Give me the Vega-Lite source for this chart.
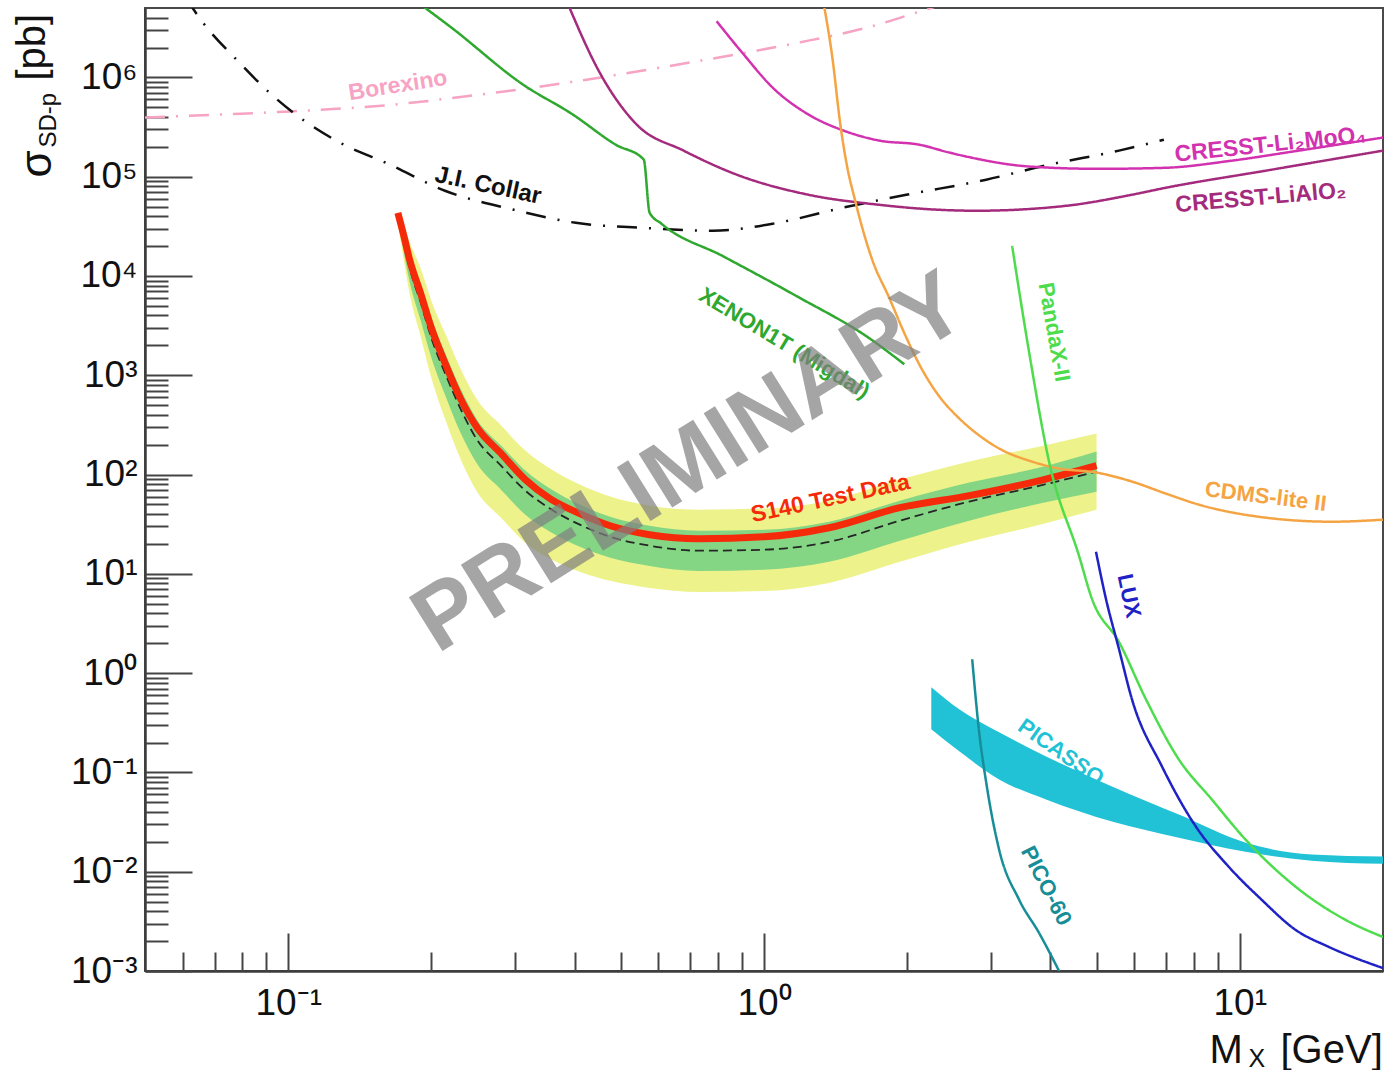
{
 "$schema": "https://vega.github.io/schema/vega-lite/v6.json",
 "width": 1238,
 "height": 963,
 "autosize": {"type": "none"},
 "padding": {"left": 145, "top": 8, "right": 4, "bottom": 99},
 "background": "#ffffff",
 "config": {"view": {"stroke": "#4a4a4a", "strokeWidth": 2}, "font": "Liberation Sans"},
 "datasets": {
  "band": [
   {"x":0.17,"lo2":33500,"lo1":35100,"exp":38500,"obs":43300,"hi1":42300,"hi2":44300},
   {"x":0.175,"lo2":14200,"lo1":17100,"exp":21500,"obs":25400,"hi1":27200,"hi2":32700},
   {"x":0.18,"lo2":6580,"lo1":8700,"exp":12000,"obs":14500,"hi1":16700,"hi2":22000},
   {"x":0.19,"lo2":2420,"lo1":3510,"exp":5340,"obs":6580,"hi1":8110,"hi2":11800},
   {"x":0.2,"lo2":933,"lo1":1490,"exp":2360,"obs":2980,"hi1":3770,"hi2":5600},
   {"x":0.215,"lo2":335,"lo1":586,"exp":977,"obs":1230,"hi1":1560,"hi2":2480},
   {"x":0.23,"lo2":145,"lo1":266,"exp":464,"obs":586,"hi1":739,"hi2":1180},
   {"x":0.25,"lo2":65.8,"lo1":126,"exp":220,"obs":292,"hi1":351,"hi2":559},
   {"x":0.28,"lo2":36.8,"lo1":70.5,"exp":123,"obs":163,"hi1":196,"hi2":313},
   {"x":0.315,"lo2":20.6,"lo1":39.4,"exp":68.9,"obs":89.0,"hi1":110,"hi2":175},
   {"x":0.355,"lo2":14.2,"lo1":26.6,"exp":45.4,"obs":57.2,"hi1":72.2,"hi2":115},
   {"x":0.41,"lo2":10.5,"lo1":18.7,"exp":31.3,"obs":40.4,"hi1":49.8,"hi2":79.2},
   {"x":0.475,"lo2":8.5,"lo1":14.5,"exp":23.6,"obs":30.5,"hi1":37.6,"hi2":60.0},
   {"x":0.575,"lo2":7.22,"lo1":12.0,"exp":19.2,"obs":24.8,"hi1":30.5,"hi2":48.6},
   {"x":0.73,"lo2":6.58,"lo1":10.7,"exp":17.1,"obs":22.6,"hi1":27.2,"hi2":44.3},
   {"x":1.0,"lo2":6.73,"lo1":11.0,"exp":17.5,"obs":23.6,"hi1":27.8,"hi2":45.4},
   {"x":1.37,"lo2":8.11,"lo1":13.2,"exp":21.0,"obs":29.1,"hi1":33.5,"hi2":54.6},
   {"x":1.93,"lo2":13.2,"lo1":21.5,"exp":34.3,"obs":46.4,"hi1":54.6,"hi2":89.0},
   {"x":2.7,"lo2":21.0,"lo1":34.3,"exp":53.4,"obs":61.4,"hi1":83.0,"hi2":135},
   {"x":3.8,"lo2":31.3,"lo1":51.0,"exp":77.4,"obs":87.0,"hi1":118,"hi2":192},
   {"x":5.0,"lo2":44.3,"lo1":67.3,"exp":107,"obs":123,"hi1":171,"hi2":259}
  ],
  "picasso": [
   {"x":2.247,"lo":0.272,"hi":0.722},
   {"x":2.572,"lo":0.163,"hi":0.433},
   {"x":3.12,"lo":0.085,"hi":0.254},
   {"x":3.916,"lo":0.0534,"hi":0.145},
   {"x":5.388,"lo":0.032,"hi":0.0722},
   {"x":7.447,"lo":0.022,"hi":0.0376},
   {"x":10.29,"lo":0.0159,"hi":0.0196},
   {"x":14.16,"lo":0.0129,"hi":0.0149},
   {"x":20,"lo":0.012,"hi":0.0142}
  ],
  "curves": [
   {"s":"Borexino","x":0.05,"y":394000},
   {"s":"Borexino","x":0.072,"y":423000},
   {"s":"Borexino","x":0.101,"y":454000},
   {"s":"Borexino","x":0.167,"y":533000},
   {"s":"Borexino","x":0.2445,"y":658000},
   {"s":"Borexino","x":0.34,"y":811000},
   {"s":"Borexino","x":0.454,"y":1000000},
   {"s":"Borexino","x":0.643,"y":1320000},
   {"s":"Borexino","x":0.876,"y":1710000},
   {"s":"Borexino","x":1.193,"y":2260000},
   {"s":"Borexino","x":1.657,"y":3200000},
   {"s":"Borexino","x":2.268,"y":5090000},
   {"s":"Borexino","x":2.451,"y":5720000},
   {"s":"J.I. Collar","x":0.0608,"y":6430000},
   {"s":"J.I. Collar","x":0.0654,"y":3850000},
   {"s":"J.I. Collar","x":0.0793,"y":1380000},
   {"s":"J.I. Collar","x":0.0917,"y":689000},
   {"s":"J.I. Collar","x":0.1024,"y":443000},
   {"s":"J.I. Collar","x":0.1285,"y":220000},
   {"s":"J.I. Collar","x":0.1621,"y":135000},
   {"s":"J.I. Collar","x":0.2135,"y":72200},
   {"s":"J.I. Collar","x":0.2981,"y":46400},
   {"s":"J.I. Collar","x":0.4023,"y":34300},
   {"s":"J.I. Collar","x":0.5587,"y":30500},
   {"s":"J.I. Collar","x":0.7796,"y":28500},
   {"s":"J.I. Collar","x":1.067,"y":34300},
   {"s":"J.I. Collar","x":1.461,"y":48600},
   {"s":"J.I. Collar","x":1.991,"y":65800},
   {"s":"J.I. Collar","x":2.931,"y":93300},
   {"s":"J.I. Collar","x":3.973,"y":132000},
   {"s":"J.I. Collar","x":5.573,"y":183000},
   {"s":"J.I. Collar","x":6.925,"y":236000},
   {"s":"XENON1T","x":0.1856,"y":5860000},
   {"s":"XENON1T","x":0.2198,"y":3200000},
   {"s":"XENON1T","x":0.3113,"y":849000},
   {"s":"XENON1T","x":0.3963,"y":423000},
   {"s":"XENON1T","x":0.488,"y":210000},
   {"s":"XENON1T","x":0.5587,"y":149000},
   {"s":"XENON1T","x":0.575,"y":43300},
   {"s":"XENON1T","x":0.6094,"y":33500},
   {"s":"XENON1T","x":0.8182,"y":15900},
   {"s":"XENON1T","x":1.17,"y":6280},
   {"s":"XENON1T","x":1.665,"y":2360},
   {"s":"XENON1T","x":1.972,"y":1290},
   {"s":"CRESST-Li2MoO4","x":0.795,"y":3680000},
   {"s":"CRESST-Li2MoO4","x":0.9057,"y":1710000},
   {"s":"CRESST-Li2MoO4","x":1.042,"y":792000},
   {"s":"CRESST-Li2MoO4","x":1.24,"y":423000},
   {"s":"CRESST-Li2MoO4","x":1.468,"y":292000},
   {"s":"CRESST-Li2MoO4","x":1.747,"y":231000},
   {"s":"CRESST-Li2MoO4","x":2.12,"y":210000},
   {"s":"CRESST-Li2MoO4","x":2.451,"y":175000},
   {"s":"CRESST-Li2MoO4","x":3.66,"y":126000},
   {"s":"CRESST-Li2MoO4","x":5.059,"y":120000},
   {"s":"CRESST-Li2MoO4","x":6.993,"y":123000},
   {"s":"CRESST-Li2MoO4","x":9.62,"y":145000},
   {"s":"CRESST-Li2MoO4","x":13.3,"y":183000},
   {"s":"CRESST-Li2MoO4","x":20,"y":248000},
   {"s":"CRESST-LiAlO2","x":0.3833,"y":6140000},
   {"s":"CRESST-LiAlO2","x":0.4538,"y":1070000},
   {"s":"CRESST-LiAlO2","x":0.5401,"y":335000},
   {"s":"CRESST-LiAlO2","x":0.6777,"y":183000},
   {"s":"CRESST-LiAlO2","x":0.8757,"y":105000},
   {"s":"CRESST-LiAlO2","x":1.24,"y":65800},
   {"s":"CRESST-LiAlO2","x":1.747,"y":52100},
   {"s":"CRESST-LiAlO2","x":2.335,"y":46400},
   {"s":"CRESST-LiAlO2","x":2.793,"y":45400},
   {"s":"CRESST-LiAlO2","x":4.313,"y":50900},
   {"s":"CRESST-LiAlO2","x":5.934,"y":65800},
   {"s":"CRESST-LiAlO2","x":6.993,"y":77400},
   {"s":"CRESST-LiAlO2","x":11.34,"y":115000},
   {"s":"CRESST-LiAlO2","x":20,"y":183000},
   {"s":"CDMS-lite II","x":1.333,"y":5720000},
   {"s":"CDMS-lite II","x":1.392,"y":1590000},
   {"s":"CDMS-lite II","x":1.447,"y":335000},
   {"s":"CDMS-lite II","x":1.497,"y":123000},
   {"s":"CDMS-lite II","x":1.549,"y":61400},
   {"s":"CDMS-lite II","x":1.625,"y":25900},
   {"s":"CDMS-lite II","x":1.689,"y":14500},
   {"s":"CDMS-lite II","x":1.834,"y":6000},
   {"s":"CDMS-lite II","x":1.972,"y":2660},
   {"s":"CDMS-lite II","x":2.141,"y":1180},
   {"s":"CDMS-lite II","x":2.335,"y":614},
   {"s":"CDMS-lite II","x":2.572,"y":368},
   {"s":"CDMS-lite II","x":2.833,"y":248},
   {"s":"CDMS-lite II","x":3.12,"y":183},
   {"s":"CDMS-lite II","x":3.66,"y":135},
   {"s":"CDMS-lite II","x":4.17,"y":115},
   {"s":"CDMS-lite II","x":4.986,"y":105},
   {"s":"CDMS-lite II","x":5.934,"y":85},
   {"s":"CDMS-lite II","x":6.993,"y":64.3},
   {"s":"CDMS-lite II","x":8.203,"y":49.8},
   {"s":"CDMS-lite II","x":11.34,"y":36.8},
   {"s":"CDMS-lite II","x":15.6,"y":33.5},
   {"s":"CDMS-lite II","x":20,"y":35.1},
   {"s":"PandaX-II","x":3.323,"y":20100},
   {"s":"PandaX-II","x":3.608,"y":1700},
   {"s":"PandaX-II","x":3.973,"y":135},
   {"s":"PandaX-II","x":4.593,"y":15.2},
   {"s":"PandaX-II","x":4.891,"y":5.59},
   {"s":"PandaX-II","x":5.573,"y":2.06},
   {"s":"PandaX-II","x":6.349,"y":0.546},
   {"s":"PandaX-II","x":7.447,"y":0.135},
   {"s":"PandaX-II","x":8.735,"y":0.0534},
   {"s":"PandaX-II","x":10.29,"y":0.021},
   {"s":"PandaX-II","x":13.11,"y":0.00705},
   {"s":"PandaX-II","x":16.69,"y":0.00327},
   {"s":"PandaX-II","x":20,"y":0.0022},
   {"s":"LUX","x":4.986,"y":16.7},
   {"s":"LUX","x":5.233,"y":5.59},
   {"s":"LUX","x":5.573,"y":1.75},
   {"s":"LUX","x":5.934,"y":0.546},
   {"s":"LUX","x":6.861,"y":0.115},
   {"s":"LUX","x":8.085,"y":0.0285},
   {"s":"LUX","x":9.482,"y":0.0112},
   {"s":"LUX","x":11.12,"y":0.00521},
   {"s":"LUX","x":13.11,"y":0.00259},
   {"s":"LUX","x":15.38,"y":0.00175},
   {"s":"LUX","x":20,"y":0.00107},
   {"s":"PICO-60","x":2.739,"y":1.38},
   {"s":"PICO-60","x":2.833,"y":0.254},
   {"s":"PICO-60","x":2.931,"y":0.0793},
   {"s":"PICO-60","x":3.12,"y":0.0167},
   {"s":"PICO-60","x":3.438,"y":0.00521},
   {"s":"PICO-60","x":3.785,"y":0.00242},
   {"s":"PICO-60","x":4.211,"y":0.000912}
  ]
 },
 "resolve": {"axis": {"x": "independent", "y": "independent"}},
 "layer": [
  {
   "data": {"name": "band"},
   "mark": {"type": "area", "color": "#eef28a", "clip": true, "interpolate": "monotone"},
   "encoding": {
    "x": {"field": "x", "type": "quantitative", "scale": {"type": "log", "domain": [0.05, 20], "nice": false},
     "axis": {"orient": "bottom", "values": [0.1, 1, 10], "ticks": false, "domain": true, "domainColor": "#3c3c3c", "domainWidth": 2.5, "labels": true,
      "labelExpr": "datum.value < 0.5 ? '10⁻¹' : datum.value < 5 ? '10⁰' : '10¹'",
      "labelFont": "Liberation Sans", "labelFontSize": 37, "labelColor": "#111111", "labelPadding": 14, "labelFlush": false, "labelOverlap": false, "grid": false, "title": null}},
    "y": {"field": "lo2", "type": "quantitative", "scale": {"type": "log", "domain": [0.001, 5000000], "nice": false},
     "axis": {"orient": "left", "values": [0.001, 0.01, 0.1, 1, 10, 100, 1000, 10000, 100000, 1000000], "ticks": false, "domain": true, "domainColor": "#3c3c3c", "domainWidth": 2.5, "labels": true,
      "labelExpr": "datum.value < 0.005 ? '10⁻³' : datum.value < 0.05 ? '10⁻²' : datum.value < 0.5 ? '10⁻¹' : datum.value < 5 ? '10⁰' : datum.value < 50 ? '10¹' : datum.value < 500 ? '10²' : datum.value < 5000 ? '10³' : datum.value < 50000 ? '10⁴' : datum.value < 500000 ? '10⁵' : '10⁶'",
      "labelFont": "Liberation Sans", "labelFontSize": 37, "labelColor": "#111111", "labelPadding": 8, "labelOverlap": false, "grid": false, "title": null}},
    "y2": {"field": "hi2"}
   }
  },
  {
   "data": {"name": "band"},
   "mark": {"type": "area", "color": "#84d684", "clip": true, "interpolate": "monotone"},
   "encoding": {
    "x": {"field": "x", "type": "quantitative", "scale": {"type": "log", "domain": [0.05, 20], "nice": false},
     "axis": {"orient": "bottom", "values": [0.1, 1, 10], "ticks": true, "tickSize": -38, "tickWidth": 2, "tickColor": "#444444", "labels": false, "domain": false, "grid": false, "title": null}},
    "y": {"field": "lo1", "type": "quantitative", "scale": {"type": "log", "domain": [0.001, 5000000], "nice": false},
     "axis": {"orient": "left", "values": [0.001, 0.01, 0.1, 1, 10, 100, 1000, 10000, 100000, 1000000], "ticks": true, "tickSize": -47, "tickWidth": 2, "tickColor": "#444444", "labels": false, "domain": false, "grid": false, "title": null}},
    "y2": {"field": "hi1"}
   }
  },
  {
   "data": {"name": "band"},
   "mark": {"type": "line", "color": "#262626", "strokeWidth": 1.8, "strokeDash": [9, 5], "clip": true, "interpolate": "monotone"},
   "encoding": {
    "x": {"field": "x", "type": "quantitative", "scale": {"type": "log", "domain": [0.05, 20], "nice": false},
     "axis": {"orient": "bottom", "values": [0.06, 0.07, 0.08, 0.09, 0.2, 0.3, 0.4, 0.5, 0.6, 0.7, 0.8, 0.9, 2, 3, 4, 5, 6, 7, 8, 9], "ticks": true, "tickSize": -19, "tickWidth": 2, "tickColor": "#444444", "labels": false, "domain": false, "grid": false, "title": null}},
    "y": {"field": "exp", "type": "quantitative", "scale": {"type": "log", "domain": [0.001, 5000000], "nice": false},
     "axis": {"orient": "left", "values": [0.002, 0.003, 0.004, 0.005, 0.006, 0.007, 0.008, 0.009, 0.02, 0.03, 0.04, 0.05, 0.06, 0.07, 0.08, 0.09, 0.2, 0.3, 0.4, 0.5, 0.6, 0.7, 0.8, 0.9, 2, 3, 4, 5, 6, 7, 8, 9, 20, 30, 40, 50, 60, 70, 80, 90, 200, 300, 400, 500, 600, 700, 800, 900, 2000, 3000, 4000, 5000, 6000, 7000, 8000, 9000, 20000, 30000, 40000, 50000, 60000, 70000, 80000, 90000, 200000, 300000, 400000, 500000, 600000, 700000, 800000, 900000, 2000000, 3000000, 4000000],
      "ticks": true, "tickSize": -23, "tickWidth": 2, "tickColor": "#444444", "labels": false, "domain": false, "grid": false, "title": null}}
   }
  },
  {
   "data": {"name": "band"},
   "mark": {"type": "line", "color": "#f52a0a", "strokeWidth": 7, "clip": true, "interpolate": "monotone"},
   "encoding": {
    "x": {"field": "x", "type": "quantitative", "scale": {"type": "log", "domain": [0.05, 20], "nice": false},
     "axis": {"orient": "bottom", "values": [], "ticks": false, "labels": false, "domain": false, "grid": false, "title": "M", "titleX": 1064, "titleY": 91, "titleAngle": 0, "titleAlign": "left", "titleBaseline": "alphabetic", "titleFont": "Liberation Sans", "titleFontSize": 40, "titleFontWeight": "normal", "titleColor": "#111111"}},
    "y": {"field": "obs", "type": "quantitative", "scale": {"type": "log", "domain": [0.001, 5000000], "nice": false},
     "axis": {"orient": "left", "values": [], "ticks": false, "labels": false, "domain": false, "grid": false, "title": "σ", "titleX": -95, "titleY": 169, "titleAngle": 270, "titleAlign": "left", "titleBaseline": "alphabetic", "titleFont": "Liberation Sans", "titleFontSize": 44, "titleFontWeight": "normal", "titleColor": "#111111"}}
   }
  },
  {
   "data": {"name": "picasso"},
   "mark": {"type": "area", "color": "#22c2d6", "clip": true, "interpolate": "monotone"},
   "encoding": {
    "x": {"field": "x", "type": "quantitative", "scale": {"type": "log", "domain": [0.05, 20], "nice": false},
     "axis": {"orient": "bottom", "values": [], "ticks": false, "labels": false, "domain": false, "grid": false, "title": "X", "titleX": 1103, "titleY": 95, "titleAngle": 0, "titleAlign": "left", "titleBaseline": "alphabetic", "titleFont": "Liberation Sans", "titleFontSize": 25, "titleFontWeight": "normal", "titleColor": "#111111"}},
    "y": {"field": "lo", "type": "quantitative", "scale": {"type": "log", "domain": [0.001, 5000000], "nice": false},
     "axis": {"orient": "left", "values": [], "ticks": false, "labels": false, "domain": false, "grid": false, "title": "SD-p", "titleX": -90, "titleY": 139, "titleAngle": 270, "titleAlign": "left", "titleBaseline": "alphabetic", "titleFont": "Liberation Sans", "titleFontSize": 24, "titleFontWeight": "normal", "titleColor": "#111111"}},
    "y2": {"field": "hi"}
   }
  },
  {
   "data": {"name": "curves"},
   "mark": {"type": "line", "strokeWidth": 2.5, "clip": true, "interpolate": "monotone"},
   "encoding": {
    "x": {"field": "x", "type": "quantitative", "scale": {"type": "log", "domain": [0.05, 20], "nice": false},
     "axis": {"orient": "bottom", "values": [], "ticks": false, "labels": false, "domain": false, "grid": false, "title": "[GeV]", "titleX": 1135, "titleY": 91, "titleAngle": 0, "titleAlign": "left", "titleBaseline": "alphabetic", "titleFont": "Liberation Sans", "titleFontSize": 40, "titleFontWeight": "normal", "titleColor": "#111111"}},
    "y": {"field": "y", "type": "quantitative", "scale": {"type": "log", "domain": [0.001, 5000000], "nice": false},
     "axis": {"orient": "left", "values": [], "ticks": false, "labels": false, "domain": false, "grid": false, "title": "[pb]", "titleX": -101, "titleY": 72, "titleAngle": 270, "titleAlign": "left", "titleBaseline": "alphabetic", "titleFont": "Liberation Sans", "titleFontSize": 40, "titleFontWeight": "normal", "titleColor": "#111111"}},
    "color": {"field": "s", "type": "nominal", "legend": null,
     "scale": {"domain": ["Borexino", "J.I. Collar", "XENON1T", "CRESST-Li2MoO4", "CRESST-LiAlO2", "CDMS-lite II", "PandaX-II", "LUX", "PICO-60"],
      "range": ["#f6a3c4", "#111111", "#2ea82e", "#d232b0", "#a32a7c", "#f5a443", "#4ddc4c", "#1f22c4", "#178d98"]}},
    "strokeDash": {"field": "s", "type": "nominal", "legend": null,
     "scale": {"domain": ["Borexino", "J.I. Collar", "XENON1T", "CRESST-Li2MoO4", "CRESST-LiAlO2", "CDMS-lite II", "PandaX-II", "LUX", "PICO-60"],
      "range": [[20, 11, 2, 11], [20, 12, 2, 12], [1, 0], [1, 0], [1, 0], [1, 0], [1, 0], [1, 0], [1, 0]]}}
   }
  },
  {
   "data": {"values": [{"t": "Borexino", "x": 0.17, "y": 830000}]},
   "mark": {"type": "text", "angle": 351, "color": "#f6a3c4", "fontSize": 23, "fontWeight": "bold", "font": "Liberation Sans", "align": "center", "baseline": "middle"},
   "encoding": {"x": {"field": "x", "type": "quantitative", "scale": {"type": "log", "domain": [0.05, 20], "nice": false}, "axis": null}, "y": {"field": "y", "type": "quantitative", "scale": {"type": "log", "domain": [0.001, 5000000], "nice": false}, "axis": null}, "text": {"field": "t"}}
  },
  {
   "data": {"values": [{"t": "J.I. Collar", "x": 0.263, "y": 81000}]},
   "mark": {"type": "text", "angle": 12, "color": "#111111", "fontSize": 24, "fontWeight": "bold", "font": "Liberation Sans", "align": "center", "baseline": "middle"},
   "encoding": {"x": {"field": "x", "type": "quantitative", "scale": {"type": "log", "domain": [0.05, 20], "nice": false}, "axis": null}, "y": {"field": "y", "type": "quantitative", "scale": {"type": "log", "domain": [0.001, 5000000], "nice": false}, "axis": null}, "text": {"field": "t"}}
  },
  {
   "data": {"values": [{"t": "XENON1T (Migdal)", "x": 1.104, "y": 2100}]},
   "mark": {"type": "text", "angle": 31, "color": "#2ea82e", "fontSize": 22, "fontWeight": "bold", "font": "Liberation Sans", "align": "center", "baseline": "middle"},
   "encoding": {"x": {"field": "x", "type": "quantitative", "scale": {"type": "log", "domain": [0.05, 20], "nice": false}, "axis": null}, "y": {"field": "y", "type": "quantitative", "scale": {"type": "log", "domain": [0.001, 5000000], "nice": false}, "axis": null}, "text": {"field": "t"}}
  },
  {
   "data": {"values": [{"t": "CRESST-Li₂MoO₄", "x": 11.6, "y": 210000}]},
   "mark": {"type": "text", "angle": 354, "color": "#d232b0", "fontSize": 23, "fontWeight": "bold", "font": "Liberation Sans", "align": "center", "baseline": "middle"},
   "encoding": {"x": {"field": "x", "type": "quantitative", "scale": {"type": "log", "domain": [0.05, 20], "nice": false}, "axis": null}, "y": {"field": "y", "type": "quantitative", "scale": {"type": "log", "domain": [0.001, 5000000], "nice": false}, "axis": null}, "text": {"field": "t"}}
  },
  {
   "data": {"values": [{"t": "CRESST-LiAlO₂", "x": 11.07, "y": 61400}]},
   "mark": {"type": "text", "angle": 355, "color": "#a32a7c", "fontSize": 23, "fontWeight": "bold", "font": "Liberation Sans", "align": "center", "baseline": "middle"},
   "encoding": {"x": {"field": "x", "type": "quantitative", "scale": {"type": "log", "domain": [0.05, 20], "nice": false}, "axis": null}, "y": {"field": "y", "type": "quantitative", "scale": {"type": "log", "domain": [0.001, 5000000], "nice": false}, "axis": null}, "text": {"field": "t"}}
  },
  {
   "data": {"values": [{"t": "PandaX-II", "x": 4.07, "y": 2720}]},
   "mark": {"type": "text", "angle": 80, "color": "#4ddc4c", "fontSize": 22, "fontWeight": "bold", "font": "Liberation Sans", "align": "center", "baseline": "middle"},
   "encoding": {"x": {"field": "x", "type": "quantitative", "scale": {"type": "log", "domain": [0.05, 20], "nice": false}, "axis": null}, "y": {"field": "y", "type": "quantitative", "scale": {"type": "log", "domain": [0.001, 5000000], "nice": false}, "axis": null}, "text": {"field": "t"}}
  },
  {
   "data": {"values": [{"t": "CDMS-lite II", "x": 11.34, "y": 60}]},
   "mark": {"type": "text", "angle": 7, "color": "#f5a443", "fontSize": 22, "fontWeight": "bold", "font": "Liberation Sans", "align": "center", "baseline": "middle"},
   "encoding": {"x": {"field": "x", "type": "quantitative", "scale": {"type": "log", "domain": [0.05, 20], "nice": false}, "axis": null}, "y": {"field": "y", "type": "quantitative", "scale": {"type": "log", "domain": [0.001, 5000000], "nice": false}, "axis": null}, "text": {"field": "t"}}
  },
  {
   "data": {"values": [{"t": "LUX", "x": 5.85, "y": 6.0}]},
   "mark": {"type": "text", "angle": 78, "color": "#1f22c4", "fontSize": 22, "fontWeight": "bold", "font": "Liberation Sans", "align": "center", "baseline": "middle"},
   "encoding": {"x": {"field": "x", "type": "quantitative", "scale": {"type": "log", "domain": [0.05, 20], "nice": false}, "axis": null}, "y": {"field": "y", "type": "quantitative", "scale": {"type": "log", "domain": [0.001, 5000000], "nice": false}, "axis": null}, "text": {"field": "t"}}
  },
  {
   "data": {"values": [{"t": "PICASSO", "x": 4.21, "y": 0.16}]},
   "mark": {"type": "text", "angle": 35, "color": "#22c2d6", "fontSize": 22, "fontWeight": "bold", "font": "Liberation Sans", "align": "center", "baseline": "middle"},
   "encoding": {"x": {"field": "x", "type": "quantitative", "scale": {"type": "log", "domain": [0.05, 20], "nice": false}, "axis": null}, "y": {"field": "y", "type": "quantitative", "scale": {"type": "log", "domain": [0.001, 5000000], "nice": false}, "axis": null}, "text": {"field": "t"}}
  },
  {
   "data": {"values": [{"t": "PICO-60", "x": 3.92, "y": 0.00722}]},
   "mark": {"type": "text", "angle": 63, "color": "#178d98", "fontSize": 22, "fontWeight": "bold", "font": "Liberation Sans", "align": "center", "baseline": "middle"},
   "encoding": {"x": {"field": "x", "type": "quantitative", "scale": {"type": "log", "domain": [0.05, 20], "nice": false}, "axis": null}, "y": {"field": "y", "type": "quantitative", "scale": {"type": "log", "domain": [0.001, 5000000], "nice": false}, "axis": null}, "text": {"field": "t"}}
  },
  {
   "data": {"values": [{"t": "S140 Test Data", "x": 1.379, "y": 57.3}]},
   "mark": {"type": "text", "angle": 348, "color": "#f52a0a", "fontSize": 23, "fontWeight": "bold", "font": "Liberation Sans", "align": "center", "baseline": "middle"},
   "encoding": {"x": {"field": "x", "type": "quantitative", "scale": {"type": "log", "domain": [0.05, 20], "nice": false}, "axis": null}, "y": {"field": "y", "type": "quantitative", "scale": {"type": "log", "domain": [0.001, 5000000], "nice": false}, "axis": null}, "text": {"field": "t"}}
  },
  {
   "data": {"values": [{"t": "PRELIMINARY", "x": 0.698, "y": 129}]},
   "mark": {"type": "text", "angle": 328, "color": "#808080", "opacity": 0.7, "fontSize": 92, "fontWeight": "bold", "font": "Liberation Sans", "align": "center", "baseline": "middle"},
   "encoding": {"x": {"field": "x", "type": "quantitative", "scale": {"type": "log", "domain": [0.05, 20], "nice": false}, "axis": null}, "y": {"field": "y", "type": "quantitative", "scale": {"type": "log", "domain": [0.001, 5000000], "nice": false}, "axis": null}, "text": {"field": "t"}}
  }
 ]
}
